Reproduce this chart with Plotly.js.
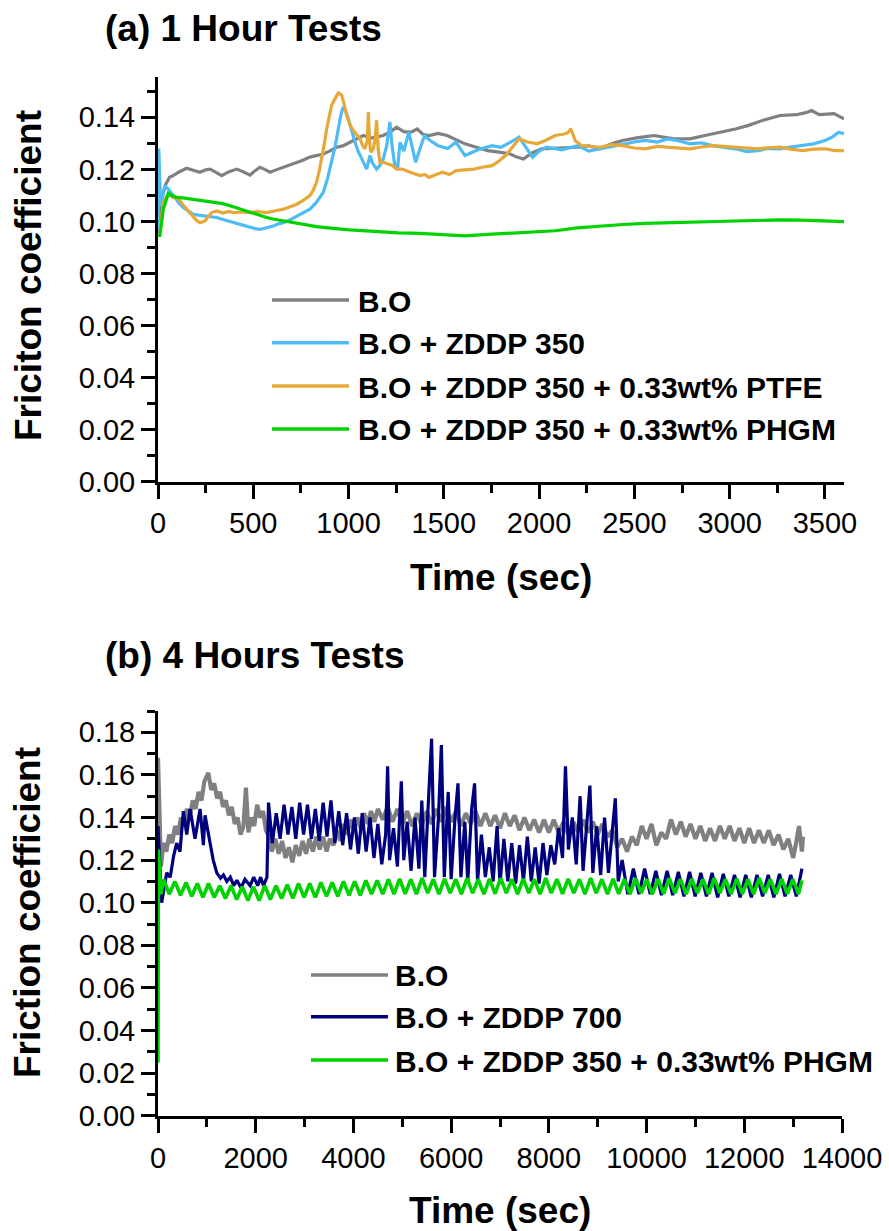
<!DOCTYPE html>
<html>
<head>
<meta charset="utf-8">
<script src="https://cdn.plot.ly/plotly-3.0.1.min.js"></script>
<style>html,body{margin:0;padding:0;background:#fff}#chart{width:889px;height:1231px}</style>
</head>
<body>
<div id="chart"></div>
<script>
// ---------- (a) 1 Hour Tests ----------
const seriesNamesA = ["B.O", "B.O + ZDDP 350", "B.O + ZDDP 350 + 0.33wt% PTFE", "B.O + ZDDP 350 + 0.33wt% PHGM"];

const tA_BO = [5,20,37,60,80,110,150,185,220,250,273,300,334,370,413,450,483,510,535,560,588,620,658,690,728,760,797,830,867,900,937,970,1007,1040,1077,1120,1150,1182,1220,1252,1290,1328,1360,1390,1422,1470,1517,1560,1611,1670,1730,1790,1848,1880,1918,1960,2013,2100,2202,2260,2320,2380,2438,2520,2603,2700,2792,2870,2958,3030,3099,3180,3265,3350,3400,3430,3470,3510,3548,3580,3600];
const fA_BO = [0.100,0.109,0.1137,0.117,0.1176,0.119,0.1204,0.1195,0.1189,0.1198,0.1201,0.119,0.1176,0.119,0.1201,0.119,0.1178,0.1195,0.1208,0.120,0.1189,0.1198,0.1208,0.1215,0.1227,0.1235,0.1247,0.1252,0.1259,0.127,0.1285,0.129,0.1304,0.1315,0.133,0.132,0.1325,0.133,0.1345,0.1362,0.1345,0.1343,0.1355,0.1335,0.133,0.1338,0.133,0.1315,0.1298,0.1285,0.1272,0.1266,0.1259,0.1248,0.124,0.1262,0.1279,0.1282,0.1285,0.129,0.1279,0.1298,0.1311,0.1322,0.133,0.1318,0.1317,0.133,0.1343,0.1355,0.1369,0.139,0.1407,0.141,0.1418,0.1426,0.141,0.1412,0.1414,0.1402,0.1394];

const tA_Z350 = [0,4,14,25,37,54,70,89,110,133,160,185,210,238,270,308,350,395,440,483,510,535,570,605,630,658,690,728,760,797,830,867,890,911,930,946,960,972,985,999,1015,1034,1050,1069,1082,1095,1112,1125,1147,1165,1182,1200,1217,1230,1243,1257,1270,1290,1316,1335,1352,1375,1399,1430,1470,1520,1564,1611,1680,1753,1800,1848,1895,1930,1966,2000,2037,2120,2202,2260,2320,2380,2438,2500,2556,2620,2674,2730,2792,2850,2911,2970,3029,3090,3147,3200,3265,3320,3383,3440,3501,3540,3572,3600];
const fA_Z350 = [0.095,0.128,0.106,0.110,0.1137,0.1124,0.111,0.1092,0.107,0.1053,0.104,0.1027,0.1024,0.1021,0.1018,0.1015,0.1005,0.0995,0.0985,0.0976,0.0972,0.0969,0.0975,0.0982,0.099,0.0995,0.1005,0.1021,0.1032,0.1047,0.1072,0.1111,0.1165,0.1227,0.129,0.1355,0.141,0.144,0.1425,0.1394,0.135,0.1304,0.127,0.124,0.122,0.1201,0.1253,0.1225,0.1201,0.1215,0.124,0.129,0.1382,0.128,0.1214,0.1202,0.1304,0.127,0.1343,0.128,0.1227,0.128,0.133,0.131,0.1291,0.128,0.1304,0.1253,0.1275,0.1291,0.1285,0.1304,0.1324,0.1285,0.1246,0.127,0.1285,0.1275,0.1291,0.127,0.1279,0.1288,0.1298,0.1305,0.1311,0.1305,0.1317,0.131,0.1298,0.1302,0.1291,0.1285,0.1279,0.1268,0.1272,0.128,0.1279,0.1286,0.1291,0.1298,0.1311,0.1325,0.1343,0.1337];

const tA_PTFE = [0,10,28,40,54,65,80,100,115,130,150,165,185,200,220,235,247,265,282,308,340,370,395,440,483,520,570,610,658,690,728,760,797,815,832,845,859,872,885,898,911,928,946,955,964,977,990,1008,1025,1043,1060,1075,1086,1098,1104,1110,1116,1130,1140,1147,1155,1165,1186,1200,1230,1252,1281,1320,1350,1375,1400,1422,1460,1493,1530,1564,1610,1659,1700,1753,1790,1824,1860,1895,1940,1989,2030,2084,2125,2150,2166,2190,2225,2270,2320,2380,2438,2500,2556,2620,2674,2730,2792,2850,2911,2970,3029,3090,3147,3200,3265,3320,3383,3440,3501,3550,3600];
const fA_PTFE = [0.095,0.0953,0.1073,0.109,0.1105,0.1098,0.1092,0.1088,0.108,0.1065,0.1047,0.1032,0.1015,0.1005,0.0995,0.0998,0.1002,0.102,0.1034,0.104,0.1032,0.1038,0.1034,0.1036,0.1034,0.1038,0.1034,0.104,0.1047,0.1055,0.1066,0.108,0.1099,0.112,0.115,0.119,0.124,0.1295,0.1355,0.140,0.1446,0.147,0.1494,0.149,0.1484,0.145,0.1407,0.137,0.1349,0.1333,0.1317,0.129,0.1279,0.131,0.142,0.131,0.1266,0.128,0.132,0.1388,0.128,0.1227,0.1227,0.1222,0.1215,0.1201,0.1201,0.119,0.1182,0.1176,0.118,0.1169,0.118,0.1189,0.118,0.1195,0.1198,0.1201,0.1208,0.1214,0.1232,0.1253,0.1285,0.1317,0.1305,0.1298,0.131,0.133,0.1335,0.134,0.1356,0.131,0.1291,0.1287,0.1285,0.1295,0.1291,0.1282,0.1279,0.1288,0.1285,0.128,0.1279,0.1286,0.1291,0.1288,0.1285,0.128,0.1279,0.1283,0.1285,0.1278,0.1272,0.1278,0.1279,0.1272,0.1272];

const tA_PHGM = [0,10,28,40,54,70,98,130,168,210,250,308,340,378,430,483,525,570,610,658,700,745,790,832,880,920,960,1007,1050,1095,1140,1182,1261,1375,1500,1611,1730,1848,1970,2084,2200,2320,2440,2556,2670,2792,2910,3029,3150,3265,3380,3501,3600];
const fA_PHGM = [0.0946,0.0946,0.1047,0.108,0.1108,0.110,0.1092,0.109,0.1086,0.1082,0.1078,0.1073,0.1068,0.106,0.1047,0.1034,0.1025,0.1015,0.1008,0.1002,0.0995,0.0989,0.0984,0.098,0.0976,0.0972,0.097,0.0967,0.0965,0.0963,0.0961,0.0959,0.0956,0.0954,0.0948,0.0944,0.095,0.0955,0.096,0.0964,0.0975,0.0983,0.0988,0.0992,0.0994,0.0996,0.0999,0.1002,0.1004,0.1006,0.1005,0.1003,0.0999];

// ---------- (b) 4 Hours Tests ----------
const seriesNamesB = ["B.O", "B.O + ZDDP 700", "B.O + ZDDP 350 + 0.33wt% PHGM"];

const tB_BO = [0,25,60,110,170,230,290,350,410,470,530,590,650,710,770,830,890,950,1030,1090,1150,1210,1270,1330,1390,1450,1510,1570,1630,1690,1750,1800,1850,1910,1970,2030,2090,2150,2210,2270,2330,2400,2470,2540,2610,2680,2750,2820,2890,2960,3030,3100,3170,3240,3310,3380,3450,3520,3590,3660,3730,3800,3870,3940,4010,4080,4150,4220,4290,4360,4430,4500,4600,4700,4800,4900,5000,5100,5200,5300,5400,5500,5600,5700,5800,5900,6000,6100,6200,6300,6400,6500,6600,6700,6800,6900,7000,7100,7200,7300,7400,7500,7600,7700,7800,7900,8000,8100,8200,8300,8400,8500,8600,8700,8800,8900,9000,9100,9200,9300,9400,9500,9600,9700,9800,9900,10000,10100,10200,10300,10400,10500,10600,10700,10800,10900,11000,11100,11200,11300,11400,11500,11600,11700,11800,11900,12000,12100,12200,12300,12400,12500,12600,12700,12800,12900,13000,13060,13120,13180,13200];
const fB_BO = [0.168,0.135,0.117,0.128,0.124,0.132,0.128,0.136,0.132,0.140,0.136,0.144,0.140,0.148,0.144,0.152,0.148,0.157,0.161,0.153,0.156,0.149,0.152,0.145,0.148,0.141,0.145,0.137,0.140,0.132,0.136,0.154,0.133,0.140,0.136,0.146,0.140,0.143,0.134,0.131,0.124,0.130,0.123,0.129,0.121,0.126,0.119,0.127,0.122,0.129,0.123,0.130,0.124,0.131,0.125,0.131,0.124,0.130,0.127,0.134,0.129,0.137,0.132,0.139,0.134,0.140,0.135,0.142,0.137,0.143,0.138,0.144,0.139,0.145,0.138,0.144,0.137,0.143,0.136,0.142,0.136,0.143,0.137,0.144,0.138,0.145,0.138,0.143,0.136,0.142,0.137,0.143,0.136,0.142,0.136,0.141,0.135,0.142,0.136,0.141,0.134,0.140,0.134,0.139,0.133,0.139,0.133,0.139,0.133,0.138,0.132,0.138,0.133,0.139,0.133,0.138,0.132,0.137,0.131,0.134,0.126,0.130,0.124,0.131,0.127,0.136,0.130,0.137,0.127,0.133,0.130,0.139,0.132,0.138,0.131,0.137,0.130,0.136,0.129,0.135,0.129,0.136,0.130,0.136,0.129,0.135,0.128,0.135,0.128,0.134,0.128,0.134,0.127,0.132,0.125,0.130,0.121,0.128,0.136,0.124,0.131];

const tB_Z700 = [0,40,75,178,250,320,383,450,519,588,656,758,861,929,963,1066,1130,1203,1280,1340,1408,1480,1550,1613,1700,1780,1886,1960,2040,2100,2159,2230,2262,2340,2420,2500,2580,2660,2740,2820,2900,2980,3060,3140,3220,3300,3380,3460,3540,3620,3700,3780,3860,3940,4020,4100,4180,4260,4340,4420,4500,4580,4660,4700,4740,4820,4900,4980,5030,5100,5180,5260,5340,5400,5460,5540,5600,5660,5740,5800,5860,5940,6000,6080,6140,6200,6280,6340,6420,6480,6540,6620,6700,6780,6860,6940,7000,7080,7160,7240,7320,7400,7480,7560,7640,7720,7800,7880,7960,8040,8120,8200,8280,8340,8400,8480,8560,8640,8700,8780,8840,8900,8980,9060,9140,9220,9300,9360,9420,9500,9615,9730,9845,9960,10075,10190,10305,10420,10535,10650,10765,10880,10995,11110,11225,11340,11455,11570,11685,11800,11915,12030,12145,12260,12375,12490,12605,12720,12835,12950,13065,13180];
const fB_Z700 = [0.136,0.118,0.100,0.114,0.112,0.122,0.128,0.124,0.143,0.132,0.144,0.130,0.144,0.127,0.141,0.128,0.120,0.114,0.1115,0.113,0.110,0.112,0.108,0.1105,0.107,0.111,0.108,0.112,0.108,0.112,0.108,0.112,0.147,0.128,0.142,0.130,0.146,0.132,0.145,0.130,0.147,0.132,0.146,0.130,0.144,0.129,0.147,0.131,0.148,0.128,0.143,0.127,0.142,0.125,0.140,0.123,0.142,0.124,0.140,0.121,0.137,0.118,0.132,0.164,0.120,0.135,0.117,0.157,0.120,0.138,0.115,0.140,0.116,0.148,0.112,0.150,0.177,0.112,0.140,0.174,0.112,0.152,0.111,0.140,0.156,0.112,0.138,0.110,0.144,0.156,0.110,0.132,0.112,0.126,0.110,0.136,0.109,0.130,0.110,0.128,0.109,0.127,0.110,0.131,0.110,0.126,0.109,0.128,0.113,0.127,0.118,0.135,0.121,0.164,0.125,0.140,0.118,0.150,0.115,0.138,0.155,0.114,0.136,0.113,0.140,0.114,0.134,0.149,0.110,0.120,0.104,0.116,0.104,0.116,0.104,0.115,0.1035,0.115,0.1035,0.1145,0.103,0.1145,0.103,0.114,0.103,0.114,0.1025,0.1135,0.103,0.113,0.1025,0.113,0.1025,0.113,0.103,0.113,0.1025,0.1135,0.103,0.113,0.103,0.116];

const tB_PHGM = [0,8,60,115,230,345,460,575,690,805,920,1035,1150,1265,1380,1495,1610,1725,1840,1955,2070,2185,2300,2415,2530,2645,2760,2875,2990,3105,3220,3335,3450,3565,3680,3795,3910,4025,4140,4255,4370,4485,4600,4715,4830,4945,5060,5175,5290,5405,5520,5635,5750,5865,5980,6095,6210,6325,6440,6555,6670,6785,6900,7015,7130,7245,7360,7475,7590,7705,7820,7935,8050,8165,8280,8395,8510,8625,8740,8855,8970,9085,9200,9315,9430,9545,9660,9775,9890,10005,10120,10235,10350,10465,10580,10695,10810,10925,11040,11155,11270,11385,11500,11615,11730,11845,11960,12075,12190,12305,12420,12535,12650,12765,12880,12995,13110,13180];
const fB_PHGM = [0.025,0.125,0.104,0.111,0.104,0.110,0.1035,0.1095,0.103,0.109,0.1025,0.109,0.1025,0.108,0.102,0.108,0.1015,0.1075,0.101,0.1075,0.101,0.108,0.1015,0.108,0.102,0.1085,0.102,0.109,0.1025,0.109,0.1025,0.1095,0.103,0.1095,0.103,0.110,0.1035,0.110,0.1035,0.1105,0.104,0.1105,0.104,0.111,0.104,0.1112,0.1042,0.111,0.104,0.1115,0.1045,0.111,0.104,0.1112,0.1045,0.111,0.104,0.1115,0.1045,0.111,0.104,0.1112,0.1042,0.1115,0.1045,0.111,0.104,0.1112,0.1045,0.111,0.104,0.1115,0.1045,0.111,0.1042,0.1112,0.1045,0.111,0.104,0.1115,0.1045,0.111,0.104,0.1112,0.1042,0.111,0.104,0.1115,0.1045,0.111,0.104,0.1112,0.1042,0.1115,0.1045,0.111,0.104,0.1112,0.1045,0.111,0.104,0.1115,0.1045,0.111,0.104,0.1112,0.1042,0.111,0.104,0.1115,0.1045,0.111,0.104,0.1112,0.1042,0.111,0.104,0.1105];

const xTicksA = [0,500,1000,1500,2000,2500,3000,3500];
const xTicksB = [0,2000,4000,6000,8000,10000,12000,14000];
const yTicksA = [0,0.02,0.04,0.06,0.08,0.10,0.12,0.14];
const yTicksB = [0,0.02,0.04,0.06,0.08,0.10,0.12,0.14,0.16,0.18];

// ---------- styling ----------
const W = 889, H = 1231;
const FONT = "Liberation Sans, Arial, Helvetica, sans-serif";
const colA = ["#808080", "#4DBBF5", "#E6A838", "#00D200"];
const colB = ["#808080", "#00007F", "#00D200"];
const px2x = p => p / W;
const px2y = p => 1 - p / H;

const traces = [
  {x: tA_BO, y: fA_BO, name: seriesNamesA[0], line: {color: colA[0], width: 3.2}},
  {x: tA_Z350, y: fA_Z350, name: seriesNamesA[1], line: {color: colA[1], width: 3.2}},
  {x: tA_PTFE, y: fA_PTFE, name: seriesNamesA[2], line: {color: colA[2], width: 3.2}},
  {x: tA_PHGM, y: fA_PHGM, name: seriesNamesA[3], line: {color: colA[3], width: 3.2}},
  {x: tB_BO, y: fB_BO, name: seriesNamesB[0], xaxis: "x2", yaxis: "y2", line: {color: colB[0], width: 4.2}},
  {x: tB_Z700, y: fB_Z700, name: seriesNamesB[1], xaxis: "x2", yaxis: "y2", line: {color: colB[1], width: 3.2}},
  {x: tB_PHGM, y: fB_PHGM, name: seriesNamesB[2], xaxis: "x2", yaxis: "y2", line: {color: colB[2], width: 3.6}}
].map(t => Object.assign({type: "scatter", mode: "lines", showlegend: false, hoverinfo: "skip"}, t));

function axis(extra) {
  return Object.assign({
    showline: true, linecolor: "#000", linewidth: 3, mirror: false,
    showgrid: false, zeroline: false,
    ticks: "outside", ticklen: 14, tickwidth: 3, tickcolor: "#000",
    tickfont: {family: FONT, size: 29, color: "#000"},
    fixedrange: true
  }, extra);
}

const layout = {
  width: W, height: H,
  margin: {l: 0, r: 0, t: 0, b: 0},
  paper_bgcolor: "#fff", plot_bgcolor: "rgba(0,0,0,0)",
  font: {family: FONT, color: "#000"},
  showlegend: false,
  xaxis: axis({domain: [px2x(158), px2x(844)], range: [0, 3600], anchor: "y",
    tickmode: "array", tickvals: xTicksA, ticktext: xTicksA.map(String),
    minor: {ticks: "outside", ticklen: 8, tickwidth: 3, tickcolor: "#000", dtick: 250, tick0: 0}}),
  yaxis: axis({domain: [px2y(481.5), px2y(77)], range: [0, 0.1555], anchor: "x",
    tickmode: "array", tickvals: yTicksA, ticktext: yTicksA.map(v => v.toFixed(2)),
    minor: {ticks: "outside", ticklen: 8, tickwidth: 3, tickcolor: "#000", dtick: 0.01, tick0: 0}}),
  xaxis2: axis({domain: [px2x(158), px2x(842)], range: [0, 14000], anchor: "y2",
    tickmode: "array", tickvals: xTicksB, ticktext: xTicksB.map(String),
    minor: {ticks: "outside", ticklen: 8, tickwidth: 3, tickcolor: "#000", dtick: 1000, tick0: 0}}),
  yaxis2: axis({domain: [px2y(1115.7), px2y(711)], range: [0, 0.19], anchor: "x2",
    tickmode: "array", tickvals: yTicksB, ticktext: yTicksB.map(v => v.toFixed(2)),
    minor: {ticks: "outside", ticklen: 8, tickwidth: 3, tickcolor: "#000", dtick: 0.01, tick0: 0}}),
  annotations: [],
  shapes: []
};

function txt(text, xp, yp, size, opts) {
  layout.annotations.push(Object.assign({
    text: text, xref: "paper", yref: "paper", x: px2x(xp), y: px2y(yp),
    showarrow: false, font: {family: FONT, size: size, color: "#000", weight: "bold"},
    xanchor: "left", yanchor: "middle"
  }, opts || {}));
}

// panel titles
txt("<b>(a) 1 Hour Tests</b>", 103, 29, 37);
txt("<b>(b) 4 Hours Tests</b>", 103, 655, 37);
// axis titles
txt("<b>Time (sec)</b>", 501, 577, 37, {xanchor: "center"});
txt("<b>Time (sec)</b>", 500, 1210, 37, {xanchor: "center"});
txt("<b>Friciton coefficient</b>", 28, 276, 37, {xanchor: "center", textangle: -90});
txt("<b>Friction coefficient</b>", 28, 913, 37, {xanchor: "center", textangle: -90});

// legends
function legend(names, colors, x0, x1, xt, rows, widths) {
  names.forEach((n, i) => {
    layout.shapes.push({type: "line", xref: "paper", yref: "paper",
      x0: px2x(x0), x1: px2x(x1), y0: px2y(rows[i]), y1: px2y(rows[i]),
      line: {color: colors[i], width: widths}});
    txt("<b>" + n + "</b>", xt, rows[i] + 1, 30);
  });
}
legend(seriesNamesA, colA, 272, 349, 356, [300, 342.7, 386, 429], 3.5);
legend(seriesNamesB, colB, 311, 388, 393, [975, 1016.7, 1060], 3.5);

Plotly.newPlot("chart", traces, layout, {staticPlot: true, displayModeBar: false});
</script>
</body>
</html>
